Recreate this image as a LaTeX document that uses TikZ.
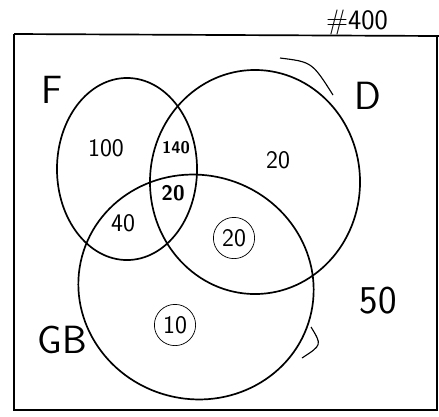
\documentclass[tikz,border=0pt]{standalone}
\usepackage{xcolor}
\usepackage{tikz}
\usetikzlibrary{shapes,positioning}

\begin{document}
\begin{tikzpicture}[
  x=0.025cm, y=-0.025cm,
  set/.style={draw, ellipse, line width=1.2pt, inner sep=0pt},
  setname/.style={font=\sffamily\fontsize{28}{30}\selectfont},
  count/.style={font=\sffamily\fontsize{18}{20}\selectfont, inner sep=1pt},
  ringed/.style={count, draw, circle, line width=0.5pt, inner sep=3pt},
  frame/.style={line width=1.2pt}
]
\useasboundingbox (0,0) rectangle (439,416);

% Universe
\draw[frame] (14,34) -- (439,36);
\draw[frame] (14,34) -- (14,410) -- (437,410) -- (437,36);
\node[font=\sffamily\fontsize{20}{22}\selectfont] (total) at (357,22) {\#400};

% Sets
\node[set, minimum width=3.5cm, minimum height=4.55cm] (F) at (127,169) {};
\node[set, minimum width=5.25cm, minimum height=5.6cm] (D) at (255,182) {};
\node[set, minimum width=5.9cm, minimum height=5.6cm, rotate=-15] (GB) at (196,287) {};

% stray strokes
\draw[line width=0.8pt] (280,58) .. controls (312,62) .. (333,95);
\draw[line width=0.8pt] (311,327) .. controls (322,345) .. (302,358);

% Set names
\node[setname] (nF) at (52,90) {F};
\node[setname] (nD) at (368,96) {D};
\node[setname] (nGB) at (62,340) {GB};

% Counts
\node[count] (cF) at (106,148) {100};
\node[count, font=\sffamily\bfseries\fontsize{12}{13}\selectfont, inner sep=0pt] (cFD) at (176,148) {140};
\node[count] (cD) at (278,160) {20};
\node[count, font=\sffamily\bfseries\fontsize{15}{16}\selectfont] (cFDG) at (173,193) {20};
\node[count] (cFG) at (123,223) {40};
\node[ringed] (cDG) at (234,238) {20};
\node[ringed] (cG) at (175,325) {10};
\node[setname] (cOut) at (378,301) {50};

\end{tikzpicture}
\end{document}
